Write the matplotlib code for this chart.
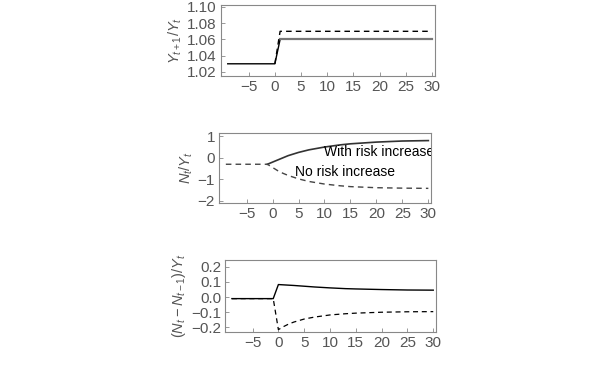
import matplotlib.pyplot as plt

plt.rcParams['font.family'] = ['Liberation Sans', 'DejaVu Sans']
plt.rcParams['mathtext.fontset'] = 'custom'
plt.rcParams['mathtext.it'] = 'Liberation Sans:italic'
plt.rcParams['mathtext.rm'] = 'Liberation Sans'

# time points
t = [-9, -1, 0, 1, 2, 3, 5, 7, 10, 13, 15, 20, 25, 30]

# growth Y_{t+1}/Y_t
g_risk = [1.03, 1.03, 1.03, 1.06, 1.06, 1.06, 1.06, 1.06, 1.06, 1.06, 1.06, 1.06, 1.06, 1.06]
g_norisk = [1.03, 1.03, 1.03, 1.07, 1.07, 1.07, 1.07, 1.07, 1.07, 1.07, 1.07, 1.07, 1.07, 1.07]

# N_t/Y_t
n_risk = [-0.3, -0.3, -0.2, -0.1, 0.0, 0.1, 0.25, 0.37, 0.5, 0.6, 0.65, 0.73, 0.78, 0.8]
n_norisk = [-0.3, -0.3, -0.45, -0.6, -0.72, -0.82, -0.98, -1.1, -1.22, -1.3, -1.34, -1.39, -1.41, -1.42]

# (N_t - N_{t-1})/Y_t
d_risk = [-0.01, -0.01, 0.083, 0.081, 0.079, 0.077, 0.072, 0.067, 0.061, 0.056, 0.054, 0.05, 0.047, 0.046]
d_norisk = [-0.01, -0.01, -0.215, -0.195, -0.178, -0.165, -0.145, -0.132, -0.118, -0.11, -0.106, -0.1, -0.097, -0.096]

xticks = [-5, 0, 5, 10, 15, 20, 25, 30]
frame = '#888888'
txt = '#555555'
dash = (0, (4, 3))

fig = plt.figure(figsize=(6.12, 3.78), dpi=100)
ax1 = fig.add_axes([0.361, 0.799, 0.35, 0.188])
ax2 = fig.add_axes([0.358, 0.463, 0.347, 0.185])
ax3 = fig.add_axes([0.368, 0.122, 0.345, 0.19])

ax1.plot(t[:4], g_risk[:4], color='black', lw=1.0)
ax1.plot(t[3:], g_risk[3:], color='#777777', lw=1.6)
ax1.plot(t[2:], g_norisk[2:], color='black', lw=1.0, ls=dash)
ax1.set_ylim(1.015, 1.1025)
ax1.set_yticks([1.02, 1.04, 1.06, 1.08, 1.10])
ax1.set_yticklabels(['1.02', '1.04', '1.06', '1.08', '1.10'])
ax1.set_ylabel('$Y_{t+1}/Y_t$', color=txt, fontsize=10.5, labelpad=2)

ax2.plot(t[1:], n_risk[1:], color='#333333', lw=1.2)
ax2.plot(t, n_norisk, color='#444444', lw=1.0, ls=dash)
ax2.set_ylim(-2.1, 1.15)
ax2.set_yticks([-2, -1, 0, 1])
ax2.set_yticklabels(['\u22122', '\u22121', '0', '1'])
ax2.set_ylabel('$N_t/Y_t$', color=txt, fontsize=10.5, labelpad=2)
ax2.text(10.0, 0.1, 'With risk increase', fontsize=10, color='black', clip_on=True)
ax2.text(4.3, -0.85, 'No risk increase', fontsize=10, color='black')

ax3.plot(t, d_risk, color='black', lw=1.0)
ax3.plot(t, d_norisk, color='black', lw=0.9, ls=dash)
ax3.set_ylim(-0.23, 0.245)
ax3.set_yticks([-0.2, -0.1, 0.0, 0.1, 0.2])
ax3.set_yticklabels(['\u22120.2', '\u22120.1', '0.0', '0.1', '0.2'])
ax3.set_ylabel('$(N_t\u2212N_{t\u22121})/Y_t$', color=txt, fontsize=10.5, labelpad=2)

for ax in (ax1, ax2, ax3):
    ax.set_xlim(-10.3, 30.6)
    ax.set_xticks(xticks)
    ax.set_xticklabels([str(v).replace('-', '\u2212') for v in xticks])
    for s in ax.spines.values():
        s.set_color(frame)
        s.set_linewidth(0.8)
    ax.tick_params(direction='in', length=3, width=0.6, color=frame,
                   labelcolor=txt, labelsize=11, pad=3)

fig.savefig('out.png', dpi=100)
